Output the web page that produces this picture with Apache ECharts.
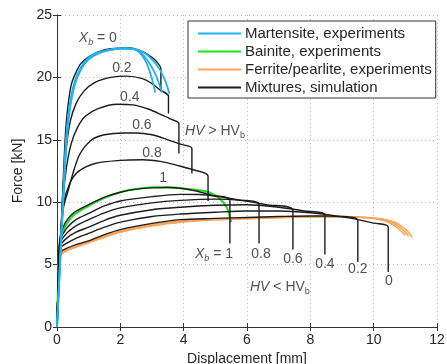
<!DOCTYPE html>
<html><head><meta charset="utf-8">
<script src="https://cdn.jsdelivr.net/npm/echarts@6/dist/echarts.min.js"></script>
<style>html,body{margin:0;padding:0;background:#fff}#c{width:447px;height:364px}</style>
</head><body><div id="c"></div>
<script>
// ---- axis ticks ----
const xTicks = [0, 2, 4, 6, 8, 10, 12];
const yTicks = [0, 5, 10, 15, 20, 25];

// ---- Martensite experiments (cyan) ----
const mart1 = [[0,0],[0.1,5.5],[0.2,11],[0.3,15.5],[0.4,17.8],[0.55,19.6],[0.75,20.8],[1.0,21.6],[1.3,22.0],[1.7,22.25],[2.1,22.35],[2.4,22.3],[2.6,22.0],[2.8,21.3],[2.95,20.3],[3.05,19.4],[3.1,18.8]];
const mart2 = [[0,0],[0.1,5.3],[0.2,10.5],[0.3,15],[0.4,17.5],[0.55,19.4],[0.75,20.7],[1.0,21.5],[1.3,21.95],[1.7,22.2],[2.1,22.3],[2.5,22.2],[2.75,21.7],[2.95,21.0],[3.1,20.3],[3.22,19.5],[3.32,18.8]];
const mart3 = [[0,0],[0.1,5.2],[0.2,10.2],[0.3,14.8],[0.4,17.3],[0.55,19.3],[0.75,20.6],[1.0,21.45],[1.3,21.9],[1.7,22.2],[2.1,22.3],[2.5,22.25],[2.8,21.9],[3.05,21.3],[3.25,20.6],[3.42,19.7],[3.55,18.7]];

// ---- Bainite experiment (green) ----
const bain1 = [[0,0],[0.06,5.5],[0.1,7.0],[0.25,8.0],[0.5,8.9],[1.0,9.7],[1.5,10.35],[2.0,10.8],[2.5,11.05],[3.0,11.2],[3.5,11.2],[4.0,11.1],[4.5,10.95],[4.8,10.8],[5.13,10.3],[5.36,9.6],[5.5,8.4]];

// ---- Ferrite/pearlite experiments (orange) ----
const fer1 = [[0,0],[0.05,4.5],[0.08,5.8],[0.2,6.1],[0.5,6.4],[1.0,6.85],[1.5,7.3],[2.0,7.7],[3.0,8.2],[4.0,8.5],[5.0,8.65],[6.0,8.72],[7.0,8.8],[8.0,8.85],[9.0,8.85],[9.8,8.75],[10.2,8.6],[10.5,8.35],[10.75,7.95],[10.9,7.6],[11.0,7.35]];
const fer2 = [[0,0],[0.05,4.4],[0.08,5.7],[0.2,6.0],[0.5,6.35],[1.0,6.8],[1.5,7.25],[2.0,7.65],[3.0,8.15],[4.0,8.45],[5.0,8.62],[6.0,8.7],[7.0,8.78],[8.0,8.83],[9.0,8.84],[9.8,8.76],[10.3,8.6],[10.6,8.35],[10.85,7.95],[11.0,7.6],[11.1,7.27]];
const fer3 = [[0,0],[0.05,4.3],[0.08,5.6],[0.2,5.95],[0.5,6.3],[1.0,6.75],[1.5,7.2],[2.0,7.6],[3.0,8.1],[4.0,8.42],[5.0,8.6],[6.0,8.68],[7.0,8.76],[8.0,8.82],[9.0,8.83],[9.8,8.77],[10.4,8.6],[10.7,8.35],[10.95,7.95],[11.1,7.6],[11.22,7.16]];

// ---- Mixtures, simulation: HV > HV_b ----
const upX0  = [[0,0],[0.1,6],[0.2,12],[0.28,16],[0.36,18],[0.46,19.5],[0.6,20.4],[0.75,21.1],[1.0,21.65],[1.3,22.05],[1.7,22.3],[2.3,22.35],[2.72,22.05],[3.0,21.6],[3.15,21.25],[3.28,20.7],[3.28,18.9]];
const upX02 = [[0,0],[0.1,6],[0.2,11.5],[0.3,14.5],[0.42,16.5],[0.6,17.9],[0.85,18.9],[1.2,19.6],[1.7,20.0],[2.2,20.1],[2.7,19.9],[3.0,19.5],[3.25,19.0],[3.52,18.5],[3.52,17.1]];
const upX04 = [[0,0],[0.1,6],[0.2,10.5],[0.3,12.8],[0.45,14.7],[0.65,16.0],[0.9,16.9],[1.3,17.5],[1.9,17.85],[2.4,17.8],[2.9,17.45],[3.3,17.0],[3.6,16.65],[3.85,16.3],[3.85,13.9]];
const upX06 = [[0,0],[0.1,6],[0.2,9.5],[0.36,11.0],[0.55,12.7],[0.73,13.9],[1.1,15.0],[1.5,15.4],[2.1,15.55],[2.5,15.55],[3.0,15.4],[3.5,15.0],[3.9,14.65],[4.26,14.3],[4.26,12.3]];
const upX08 = [[0,0],[0.08,6],[0.2,9.8],[0.4,11.5],[0.67,12.45],[1.2,13.1],[2.0,13.35],[2.7,13.4],[3.3,13.25],[3.8,12.95],[4.3,12.6],[4.77,12.1],[4.77,10.1]];
// Xb = 1 (shared by both groups)
const simX1 = [[0,0],[0.06,5.5],[0.1,7.2],[0.25,8.3],[0.5,9.1],[1.0,9.8],[1.5,10.4],[2.0,10.8],[2.5,11.05],[3.0,11.15],[3.5,11.18],[3.9,11.12],[4.4,10.9],[4.9,10.55],[5.46,10.15],[5.46,6.7]];

// ---- Mixtures, simulation: HV < HV_b ----
const loX08 = [[0,0],[0.06,5.5],[0.1,6.9],[0.3,7.9],[0.6,8.6],[1.0,9.1],[1.5,9.7],[2.0,10.1],[3.0,10.45],[3.9,10.63],[4.5,10.62],[5.0,10.5],[5.7,10.2],[6.38,9.8],[6.38,6.7]];
const loX06 = [[0,0],[0.06,5.4],[0.1,6.7],[0.3,7.5],[0.6,8.1],[1.0,8.6],[1.5,9.15],[2.0,9.55],[3.0,9.95],[3.9,10.15],[5.0,10.25],[5.8,10.15],[6.6,9.8],[7.45,9.35],[7.45,6.2]];
const loX04 = [[0,0],[0.06,5.3],[0.1,6.5],[0.3,7.1],[0.6,7.6],[1.0,8.0],[1.5,8.55],[2.0,8.95],[3.0,9.4],[3.9,9.6],[5.0,9.75],[6.0,9.8],[7.0,9.6],[7.8,9.3],[8.46,8.95],[8.46,5.8]];
const loX02 = [[0,0],[0.06,5.2],[0.1,6.3],[0.3,6.7],[0.6,7.1],[1.0,7.5],[1.5,8.0],[2.0,8.4],[3.0,8.85],[3.9,9.05],[5.0,9.2],[6.0,9.3],[7.0,9.3],[8.0,9.15],[8.8,8.9],[9.5,8.55],[9.5,5.2]];
const loX0  = [[0,0],[0.06,5.0],[0.1,6.0],[0.3,6.3],[0.6,6.6],[1.0,6.9],[1.5,7.4],[2.0,7.8],[3.0,8.3],[3.9,8.6],[5.0,8.7],[6.0,8.78],[7.0,8.85],[8.0,8.9],[8.6,8.9],[9.0,8.82],[9.5,8.6],[10.0,8.32],[10.46,8.0],[10.46,4.4]];

// ---- annotation texts ----
const annoTexts = ['xb0','0.2','0.4','0.6','0.8','1','hvgt','xb1','0.8','0.6','0.4','0.2','0','hvlt'];
// anchor positions (data coords) for the annotations
const annoPos = [[1.29,23.15],[2.05,20.75],[2.3,18.45],[2.68,16.2],[3.0,13.95],[3.35,11.95],[4.99,15.7],[4.96,5.85],[6.44,5.8],[7.45,5.4],[8.46,5.0],[9.5,4.6],[10.48,3.7],[7.04,3.2]];

const names = {
  m: 'Martensite, experiments',
  b: 'Bainite, experiments',
  f: 'Ferrite/pearlite, experiments',
  s: 'Mixtures, simulation'
};
const colors = { m: '#22b2ee', b: '#1fe01f', f: '#ffa45c', s: '#1c1c1c' };

function line(key, data, w) {
  return { type: 'line', name: names[key], data: data, showSymbol: false, symbol: 'none',
    smooth: 0.3, lineStyle: { color: colors[key], width: w }, itemStyle: { color: colors[key] },
    animation: false, z: key === 's' ? 3 : 2 };
}

const series = [
  line('f', fer1, 1.6), line('f', fer2, 1.6), line('f', fer3, 1.6),
  line('b', bain1, 2),
  line('s', upX0, 1.4), line('s', upX02, 1.4), line('s', upX04, 1.4), line('s', upX06, 1.4), line('s', upX08, 1.4), line('s', simX1, 1.4),
  line('s', loX08, 1.4), line('s', loX06, 1.4), line('s', loX04, 1.4), line('s', loX02, 1.4), line('s', loX0, 1.4),
  line('m', mart1, 1.8), line('m', mart2, 1.8), line('m', mart3, 1.8)
];
series[15].z = 4; series[16].z = 4; series[17].z = 4;

const txt = '#262626';
const rich = {
  n: { fontSize: 14, color: txt, fontFamily: 'Liberation Sans' },
  i: { fontSize: 14, color: txt, fontStyle: 'italic', fontFamily: 'Liberation Sans' },
  s: { fontSize: 9, color: txt, fontStyle: 'italic', fontFamily: 'Liberation Sans', padding: [9, 0, 0, 0] },
  r: { fontSize: 9, color: txt, fontFamily: 'Liberation Sans', padding: [9, 0, 0, 0] }
};
function annoFmt(t) {
  if (t === 'xb0') return '{i|X}{s|b}{n| = 0}';
  if (t === 'xb1') return '{i|X}{s|b}{n| = 1}';
  if (t === 'hvgt') return '{i|HV}{n| > HV}{r|b}';
  if (t === 'hvlt') return '{i|HV}{n| < HV}{r|b}';
  return '{n|' + t + '}';
}
series.push({
  type: 'scatter', symbolSize: 0, silent: true, animation: false, z: 5,
  data: annoTexts.map((t, k) => ({ value: annoPos[k], name: t })),
  label: { show: true, position: 'inside', formatter: p => annoFmt(p.name), rich: rich }
});

const axisLine = { show: true, lineStyle: { color: '#333', width: 1 } };
const tickIn = { show: true, inside: true, length: 4, lineStyle: { color: '#333' } };
const split = { show: true, lineStyle: { color: '#bdbdbd', type: [1, 3], width: 1 } };
const lab = { color: txt, fontSize: 14, fontFamily: 'Liberation Sans' };

const option = {
  backgroundColor: '#fff',
  animation: false,
  grid: { left: 57, right: 10, top: 15, bottom: 37, containLabel: false, outerBoundsMode: 'none' },
  legend: {
    data: [names.m, names.b, names.f, names.s],
    orient: 'vertical', left: 188, top: 21,
    icon: 'rect',
    backgroundColor: '#fff', borderColor: '#333', borderWidth: 1, borderRadius: 0,
    padding: [5, 4, 3, 10], itemGap: 3, itemWidth: 43, itemHeight: 2,
    textStyle: { color: txt, fontSize: 15, lineHeight: 14, fontFamily: 'Liberation Sans', padding: [0, 0, 0, -1] },
    selectedMode: false, z: 10
  },
  xAxis: [
    { type: 'value', min: 0, max: 12, interval: 2, axisLine: axisLine, axisTick: tickIn, splitLine: split,
      axisLabel: Object.assign({ margin: 6 }, lab),
      name: 'Displacement [mm]', nameLocation: 'middle', nameGap: 24,
      nameTextStyle: { color: txt, fontSize: 14, fontFamily: 'Liberation Sans' } },
    { type: 'value', position: 'top', min: 0, max: 12, interval: 2, axisLine: axisLine, axisTick: tickIn,
      splitLine: { show: false }, axisLabel: { show: false } }
  ],
  yAxis: [
    { type: 'value', min: 0, max: 25, interval: 5, axisLine: axisLine, axisTick: tickIn, splitLine: split,
      axisLabel: Object.assign({ margin: 5 }, lab),
      name: 'Force [kN]', nameLocation: 'middle', nameGap: 24,
      nameTextStyle: { color: txt, fontSize: 14, fontFamily: 'Liberation Sans' } },
    { type: 'value', position: 'right', min: 0, max: 25, interval: 5, axisLine: axisLine, axisTick: tickIn,
      splitLine: { show: false }, axisLabel: { show: false } }
  ],
  series: series
};
const chart = echarts.init(document.getElementById('c'), null, { renderer: 'canvas' });
chart.setOption(option);
</script></body></html>
